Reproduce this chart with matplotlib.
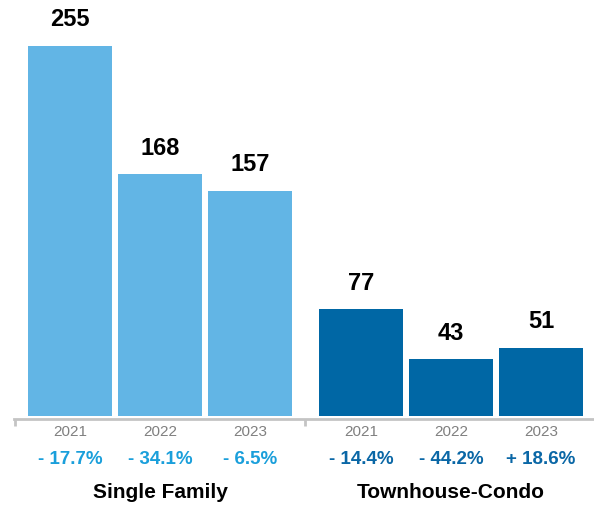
import numpy as np
import matplotlib
matplotlib.use('Agg')
import matplotlib.pyplot as plt

plt.rcParams['font.family'] = ['Liberation Sans', 'DejaVu Sans']

groups = ['Single Family', 'Townhouse-Condo']
years = ['2021', '2022', '2023']
single_family = [255, 168, 157]
townhouse = [77, 43, 51]
sf_change = ['- 17.7%', '- 34.1%', '- 6.5%']
th_change = ['- 14.4%', '- 44.2%', '+ 18.6%']

light = '#62B5E5'
dark = '#0067A5'
light_txt = '#1A9FDB'
dark_txt = '#0A67A6'

W, H = 594, 507
fig = plt.figure(figsize=(W / 100, H / 100), dpi=100)

# pixel geometry of the plotting area (bars get cut a little above zero)
x0_px, x1_px = 14, 594
base_px = 416
ax = fig.add_axes([x0_px / W, (H - base_px) / H, (x1_px - x0_px) / W, base_px / H])

step = 90.0
gap = 291 / step
pos_sf = np.arange(3)
pos_th = np.arange(3) + gap
width = 84 / step

scale = 1.48  # px per unit
ylo = 7 / scale
ax.set_xlim((x0_px - 70) / step, (x1_px - 70) / step)
ax.set_ylim(ylo, ylo + base_px / scale)

ax.bar(pos_sf, single_family, width=width, color=light)
ax.bar(pos_th, townhouse, width=width, color=dark)

for x, v in zip(list(pos_sf) + list(pos_th), single_family + townhouse):
    ax.annotate(str(v), (x, v), xytext=(0, 14), textcoords='offset points',
                ha='center', va='baseline', fontsize=17, fontweight='bold')

for spine in ['top', 'right', 'left']:
    ax.spines[spine].set_visible(False)
ax.spines['bottom'].set_color('#C4C4C4')
ax.spines['bottom'].set_linewidth(2)
ax.spines['bottom'].set_position(('outward', 2.5))
ax.set_yticks([])
ax.set_xticks([(x0_px - 70) / step + 0.012, (305 - 70) / step])
ax.set_xticklabels([])
ax.tick_params(axis='x', direction='out', length=5, width=2, color='#C4C4C4')

trans = ax.get_xaxis_transform()
for pos, changes, col in [(pos_sf, sf_change, light_txt), (pos_th, th_change, dark_txt)]:
    for x, yr, ch in zip(pos, years, changes):
        ax.text(x, -16 / base_px, yr, transform=trans, ha='center', va='center',
                fontsize=11, color='#808080')
        ax.text(x, -43 / base_px, ch, transform=trans, ha='center', va='center',
                fontsize=13.5, fontweight='bold', color=col)

for x, g in zip([pos_sf[1], pos_th[1]], groups):
    ax.text(x, -77 / base_px, g, transform=trans, ha='center', va='center',
            fontsize=15, fontweight='bold', color='black')

fig.savefig('out.png', dpi=100)
